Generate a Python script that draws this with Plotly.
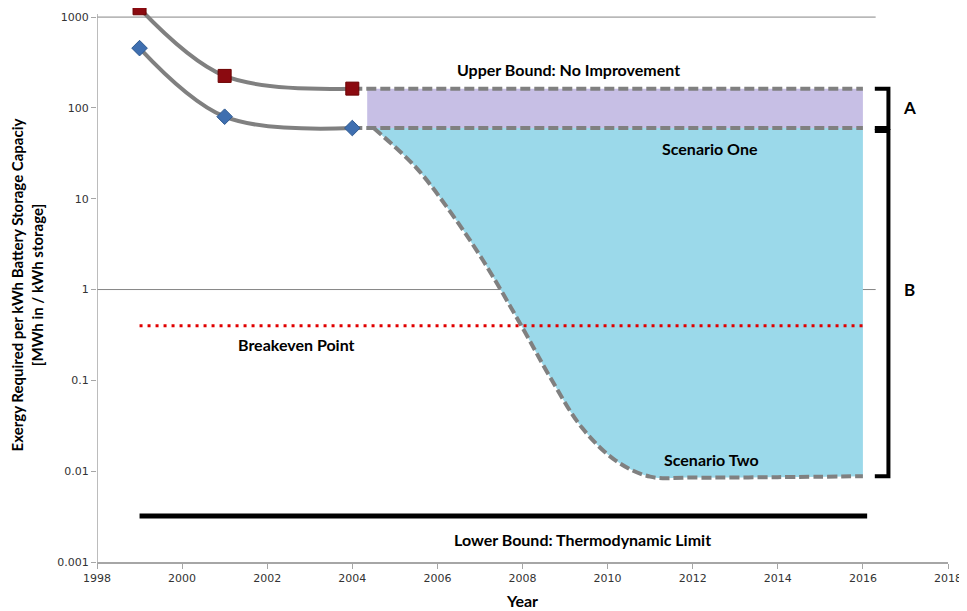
import math
import plotly.graph_objects as go

# ---- data ----
hist_years = [1999, 2001, 2004]
upper_hist = [1250, 225, 163]
lower_hist = [455, 80, 60]

proj_years = [2004, 2016]
upper_bound = [163, 163]
scenario_one = [60, 60]

purple_years = [2004.35, 2016]

scen2_years = [2004.5, 2005.5, 2006.3, 2007.07, 2008.0, 2008.65, 2009.4, 2010.2, 2011.0, 2012.0, 2014.0, 2016.0]
scen2_vals = [60, 22, 7.2, 2.1, 0.38, 0.108, 0.030, 0.013, 0.0087, 0.0085, 0.0086, 0.0088]

breakeven_years = [1999, 2016]
breakeven_vals = [0.4, 0.4]

lower_years = [1999, 2016.1]
lower_vals = [0.0032, 0.0032]

ytick_vals = [0.001, 0.01, 0.1, 1, 10, 100, 1000]
ytick_text = ["0.001", "0.01", "0.1", "1", "10", "100", "1000"]
xtick_vals = list(range(1998, 2019, 2))

GRAY = "#808080"
AXC = "#A6A6A6"
LBL = dict(family="Lato, Open Sans, sans-serif", size=16, color="black")

fig = go.Figure()

# purple band (A)
fig.add_trace(go.Scatter(x=purple_years, y=scenario_one, mode="lines",
                         line=dict(width=0), hoverinfo="skip", showlegend=False))
fig.add_trace(go.Scatter(x=purple_years, y=upper_bound, mode="lines", fill="tonexty",
                         fillcolor="#C7BFE5", line=dict(width=0), showlegend=False))

# blue band (Scenario two)
fig.add_trace(go.Scatter(x=[scen2_years[0], scen2_years[-1]], y=scenario_one, mode="lines",
                         line=dict(width=0), hoverinfo="skip", showlegend=False))
fig.add_trace(go.Scatter(x=scen2_years, y=scen2_vals, mode="lines", fill="tonexty",
                         fillcolor="#9BD9EA", line=dict(color=GRAY, width=4, dash="10px,4px",
                                                        shape="spline", smoothing=1.0),
                         showlegend=False))

# dashed bounds
fig.add_trace(go.Scatter(x=proj_years, y=upper_bound, mode="lines",
                         line=dict(color=GRAY, width=4, dash="10px,4px"), showlegend=False))
fig.add_trace(go.Scatter(x=proj_years, y=scenario_one, mode="lines",
                         line=dict(color=GRAY, width=4, dash="10px,4px"), showlegend=False))

# historical curves
fig.add_trace(go.Scatter(x=hist_years, y=upper_hist, mode="lines+markers",
                         line=dict(color=GRAY, width=4, shape="spline", smoothing=1.0),
                         marker=dict(symbol="square", size=13, color="#8B0A10",
                                     line=dict(color="#6B0000", width=1)),
                         cliponaxis=False, showlegend=False))
fig.add_trace(go.Scatter(x=hist_years, y=lower_hist, mode="lines+markers",
                         line=dict(color=GRAY, width=4, shape="spline", smoothing=1.0),
                         marker=dict(symbol="diamond", size=12, color="#3F6FB0",
                                     line=dict(color="#2F5A90", width=1)),
                         cliponaxis=False, showlegend=False))

# breakeven
fig.add_trace(go.Scatter(x=breakeven_years, y=breakeven_vals, mode="lines",
                         line=dict(color="#E00000", width=3, dash="3px,5px"), showlegend=False))

# lower bound
fig.add_trace(go.Scatter(x=lower_years, y=lower_vals, mode="lines",
                         line=dict(color="black", width=5), showlegend=False))

# brackets A and B
bx0, bx1 = 2016.28, 2016.6
fig.add_trace(go.Scatter(
    x=[bx0, bx1, bx1, bx0, None, bx0, bx1, bx1, bx0],
    y=[upper_bound[0], upper_bound[0], scenario_one[0], scenario_one[0], None,
       scenario_one[0] * 0.93, scenario_one[0] * 0.93, scen2_vals[-1], scen2_vals[-1]],
    mode="lines", line=dict(color="black", width=4), cliponaxis=False, showlegend=False))

# gridlines at 1 and 1000, y axis line
for gy in [1, 1000]:
    fig.add_shape(type="line", xref="x", yref="y", x0=1998, x1=2016.3, y0=gy, y1=gy,
                  line=dict(color="#868686", width=1), layer="below")
fig.add_shape(type="line", xref="x", yref="y", x0=1998, x1=1998, y0=0.001, y1=1080,
              line=dict(color=AXC, width=1.5), layer="below")


def ann(text, x, yval, size=16, xanchor="center"):
    fig.add_annotation(x=x, y=math.log10(yval), text="<b>%s</b>" % text, showarrow=False,
                       font=dict(LBL, size=size), xanchor=xanchor, yanchor="middle")


ann("Upper Bound: No Improvement", 2009.07, 265)
ann("Scenario One", 2012.4, 36)
ann("Breakeven Point", 2002.7, 0.25)
ann("Scenario Two", 2012.43, 0.0135)
ann("Lower Bound: Thermodynamic Limit", 2009.4, 0.00178)
ann("A", 2017.1, 100, size=17)
ann("B", 2017.1, 1.0, size=17)

tickfont = dict(family="DejaVu Sans, sans-serif", size=11, color="#333333")

# page body has an 8px default margin, so the figure is sized/offset to compensate
fig.update_layout(
    width=959, height=603,
    margin=dict(l=89, r=19, t=0, b=49),
    plot_bgcolor="white", paper_bgcolor="white",
    xaxis=dict(range=[1998, 2018], tickvals=xtick_vals, showgrid=False, zeroline=False,
               showline=True, linecolor=AXC, linewidth=1.5, ticks="outside", ticklen=5,
               tickcolor=AXC, tickfont=tickfont, automargin=False,
               title=dict(text="<b>Year</b>",
                          font=dict(family="Lato, Open Sans, sans-serif", size=16, color="black"),
                          standoff=12)),
    yaxis=dict(type="log", range=[-3, 3.1], tickvals=ytick_vals, ticktext=ytick_text,
               showgrid=False, zeroline=False, showline=False,
               ticks="outside", ticklen=5, tickcolor=AXC, tickfont=tickfont, automargin=False,
               title=dict(text="<b>Exergy Required per kWh Battery Storage Capaciy<br>[MWh in / kWh storage]</b>",
                          font=dict(family="Lato, Open Sans, sans-serif", size=15, color="black"),
                          standoff=13)),
)

fig.write_html("out.html")
